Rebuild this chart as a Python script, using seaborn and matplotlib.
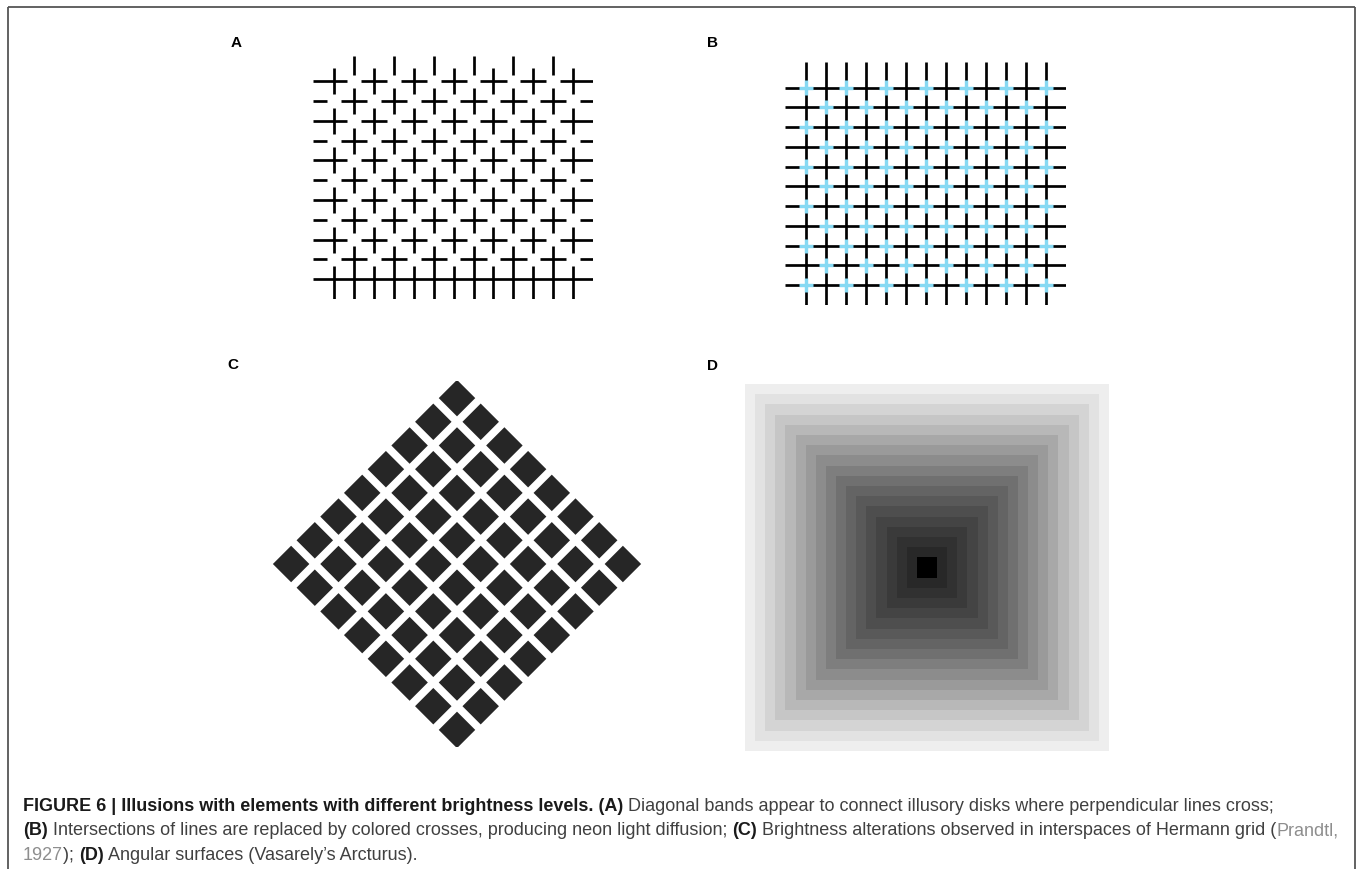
"""
Figure 6 - brightness illusions (four panels + caption)
"""

import numpy as np
import matplotlib
matplotlib.use("Agg")
import matplotlib.pyplot as plt
from matplotlib.lines import Line2D
import seaborn as sns

# =====================================================
# 1. DATA
# =====================================================

W, H, DPI = 1358, 870, 100

# panels A and B: 11 horizontal x 13 vertical lines
GRID_ROWS = list(range(11))
GRID_COLS = list(range(13))
# rows whose crossings are broken in panel A (row -1 is the cut-off row on top)
A_BROKEN_ROWS = [-1, 0, 1, 2, 3, 4, 5, 6, 7, 8, 9]

# panel C: 8 x 8 black squares turned by 45 degrees
DIAMOND_ROWS = list(range(8))
DIAMOND_COLS = list(range(8))

# panel D: grey level of each ring, from the centre outwards (0-255)
ARCTURUS_GRAYS = [0, 40, 49, 58, 68, 78, 89, 100, 112, 126, 140, 154, 168,
                  184, 198, 212, 226, 238]

PANEL_LABELS = ["A", "B", "C", "D"]

CAPTION = [
    [("FIGURE 6 | Illusions with elements with different brightness levels. (A)", "b"),
     (" Diagonal bands appear to connect illusory disks where perpendicular lines cross;", "r")],
    [("(B)", "b"),
     (" Intersections of lines are replaced by colored crosses, producing neon light diffusion; ", "r"),
     ("(C)", "b"),
     (" Brightness alterations observed in interspaces of Hermann grid (", "r"),
     ("Prandtl,", "l")],
    [("1927", "l"), ("); ", "r"), ("(D)", "b"),
     (" Angular surfaces (Vasarely\u2019s Arcturus).", "r")],
]

# =====================================================
# 2. STYLE
# =====================================================

sns.set_theme(style="white")
plt.rcParams["font.family"] = ["Liberation Sans", "DejaVu Sans"]

LINE_LW = 1.95
GAP = 0.34
CYAN = "#86d9f3"
SQUARE_COLOR = "#262626"
CAP_SIZE = 13
STYLE = {
    "b": dict(weight="bold", color="#1a1a1a"),
    "r": dict(color="#404040"),
    "l": dict(color="#8e8e8e"),
}


def px_axes(fig, x0, y0, x1, y1):
    ax = fig.add_axes([x0 / W, 1 - y1 / H, (x1 - x0) / W, (y1 - y0) / H])
    ax.set_axis_off()
    return ax


def split_segments(start, stop, gaps):
    edges = [start]
    for g in sorted(gaps):
        edges += [g - GAP, g + GAP]
    edges.append(stop)
    segs = [(max(a, start), min(b, stop)) for a, b in zip(edges[::2], edges[1::2])]
    return [(a, b) for a, b in segs if b > a]


fig = plt.figure(figsize=(W / DPI, H / DPI), dpi=DPI)
fig.patch.set_facecolor("white")

XLIM = (-1.05, 13.0)
YLIM = (11.0, -1.29)

# =====================================================
# 3. PANEL A - broken crossings
# =====================================================

ax = px_axes(fig, 313.3, 56.7, 593, 300)
ax.set_xlim(*XLIM)
ax.set_ylim(*YLIM)
for r in GRID_ROWS:
    gaps = [c for c in GRID_COLS if (r + c) % 2 == 1 and r in A_BROKEN_ROWS]
    for a, b in split_segments(XLIM[0], XLIM[1], gaps):
        ax.hlines(r, a, b, color="black", lw=LINE_LW, capstyle="butt")
for c in GRID_COLS:
    gaps = [r for r in A_BROKEN_ROWS if (r + c) % 2 == 1]
    for a, b in split_segments(YLIM[1], YLIM[0], gaps):
        ax.vlines(c, a, b, color="black", lw=LINE_LW, capstyle="butt")

# =====================================================
# 4. PANEL B - neon crosses
# =====================================================

ax = px_axes(fig, 785, 63, 1066, 306)
ax.set_xlim(*XLIM)
ax.set_ylim(*YLIM)
ax.hlines(GRID_ROWS, XLIM[0], XLIM[1], color="black", lw=LINE_LW, capstyle="butt")
ax.vlines(GRID_COLS, YLIM[1], YLIM[0], color="black", lw=LINE_LW, capstyle="butt")
arm = 0.36
for r in GRID_ROWS:
    for c in GRID_COLS:
        if (r + c) % 2 == 0:
            ax.hlines(r, c - arm, c + arm, color=CYAN, lw=LINE_LW + 0.5, capstyle="butt")
            ax.vlines(c, r - arm, r + arm, color=CYAN, lw=LINE_LW + 0.5, capstyle="butt")

# =====================================================
# 5. PANEL C - Hermann grid as a diamond
# =====================================================

ax = px_axes(fig, 272, 382, 642, 748)
ax.set_xlim(-5.52, 5.52)
ax.set_ylim(5.46, -5.46)
side = 0.77
mid = (len(DIAMOND_ROWS) - 1) / 2
for i in DIAMOND_ROWS:
    for j in DIAMOND_COLS:
        u, v = i - mid, j - mid
        cu = [u - side / 2, u + side / 2, u + side / 2, u - side / 2]
        cv = [v - side / 2, v - side / 2, v + side / 2, v + side / 2]
        xs = [(a - b) / np.sqrt(2) for a, b in zip(cu, cv)]
        ys = [(a + b) / np.sqrt(2) for a, b in zip(cu, cv)]
        ax.fill(xs, ys, color=SQUARE_COLOR, lw=0)

# =====================================================
# 6. PANEL D - Arcturus (nested grey squares)
# =====================================================

n_ring = len(ARCTURUS_GRAYS)
size = 2 * n_ring
centre = (size - 1) / 2
idx = np.arange(size)
ring = np.maximum(np.abs(idx[:, None] - centre), np.abs(idx[None, :] - centre)) - 0.5
ring = ring.astype(int)
levels = np.array(ARCTURUS_GRAYS)[ring]

ax = px_axes(fig, 745, 385, 1109, 752)
sns.heatmap(levels, ax=ax, cmap="gray", vmin=0, vmax=255, cbar=False,
            xticklabels=False, yticklabels=False, square=False)
ax.set_axis_off()

# =====================================================
# 7. LABELS, CAPTION, FRAME
# =====================================================

label_pos = [(236, 43), (712, 43), (233, 365), (712, 366)]
for lab, (x, y) in zip(PANEL_LABELS, label_pos):
    fig.text(x / W, 1 - y / H, lab, ha="center", va="center",
             fontsize=11, weight="bold", color="black")

renderer = fig.canvas.get_renderer()


def piece_width(s, kw):
    t1 = fig.text(0, 0, s + "|", fontsize=CAP_SIZE, **kw)
    t2 = fig.text(0, 0, "|", fontsize=CAP_SIZE, **kw)
    w = t1.get_window_extent(renderer).width - t2.get_window_extent(renderer).width
    t1.remove()
    t2.remove()
    return w


baselines = [810.7, 835.2, 859.7]
for line, yb in zip(CAPTION, baselines):
    x = 23.0
    for s, st in line:
        fig.text(x / W, 1 - yb / H, s, ha="left", va="baseline",
                 fontsize=CAP_SIZE, **STYLE[st])
        x += piece_width(s, STYLE[st])

frame = dict(color="#555555", lw=1.3, solid_capstyle="butt")
fig.add_artist(Line2D([8 / W, 8 / W], [0, 1 - 8 / H], **frame))
fig.add_artist(Line2D([8 / W, 1355 / W], [1 - 8 / H, 1 - 8 / H], **frame))
fig.add_artist(Line2D([1355 / W, 1355 / W], [0, 1 - 8 / H], **frame))

fig.savefig("out.png", dpi=DPI, facecolor="white")
plt.close(fig)
